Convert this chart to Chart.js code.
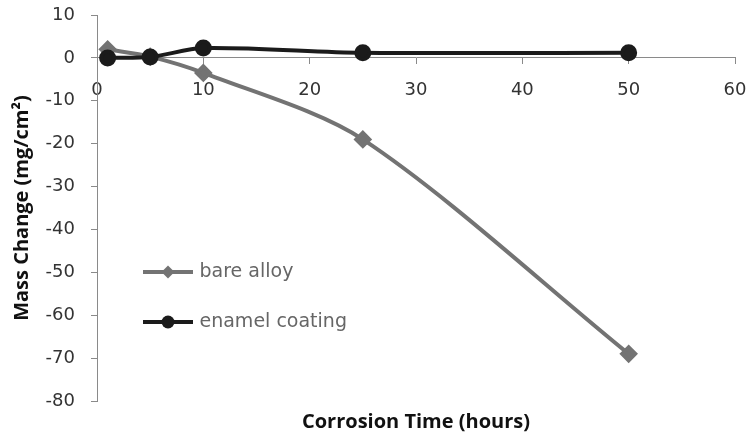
<!DOCTYPE html>
<html>
<head>
<meta charset="utf-8">
<script src="https://cdn.jsdelivr.net/npm/chart.js@4"></script>
<style>
  html, body { margin: 0; padding: 0; background: #fff; }
</style>
</head>
<body>
<canvas id="massChart" width="748" height="438"></canvas>
<script>
// Data
const hours = [1, 5, 10, 25, 50];
const bareAlloy = [2, 0.3, -3.5, -19, -69];
const enamelCoating = [0, 0.2, 2.3, 1.2, 1.2];
const seriesNames = ['bare alloy', 'enamel coating'];
const xRange = [0, 60, 10];      // min, max, step
const yRange = [-80, 10, 10];

const gray = '#737373';
const black = '#1b1b1b';
const axisGray = '#8a8a8a';
const tickFont = { family: 'DejaVu Sans', size: 18 };
const titleFont = { family: 'Open Sans', size: 20, weight: 'bold' };

// legend swatch: line with marker, like the spreadsheet legend
const makeSwatch = (color, marker) => {
    const c = document.createElement('canvas');
    c.width = 68;
    c.height = 16;
    const g = c.getContext('2d');
    g.strokeStyle = color;
    g.fillStyle = color;
    g.lineWidth = 4;
    g.beginPath();
    g.moveTo(18, 8);
    g.lineTo(68, 8);
    g.stroke();
    g.beginPath();
    if (marker === 'circle') {
        g.arc(43, 8, 6.5, 0, Math.PI * 2);
    } else {
        g.moveTo(43, 1.5); g.lineTo(49.5, 8); g.lineTo(43, 14.5); g.lineTo(36.5, 8);
        g.closePath();
    }
    g.fill();
    return c;
};
const swatches = [makeSwatch(gray, 'diamond'), makeSwatch(black, 'circle')];

const toPoints = (ys) => hours.map((h, i) => ({ x: h, y: ys[i] }));

const ctx = document.getElementById('massChart').getContext('2d');
new Chart(ctx, {
  type: 'line',
  data: {
    datasets: [{
      label: seriesNames[0],
      data: toPoints(bareAlloy),
      borderColor: gray,
      backgroundColor: gray,
      borderWidth: 4,
      pointStyle: 'rectRot',
      pointRadius: 6.5,
      tension: 0.3,
      order: 1
    }, {
      label: seriesNames[1],
      data: toPoints(enamelCoating),
      borderColor: black,
      backgroundColor: black,
      borderWidth: 4,
      pointStyle: 'circle',
      pointRadius: 6.5,
      tension: 0.3,
      order: 0
    }]
  },
  options: {
    responsive: false,
    animation: false,
    layout: { padding: { top: 15, right: 13, left: 0, bottom: 0 } },
    scales: {
      x: {
        type: 'linear',
        position: { y: 0 },
        min: xRange[0], max: xRange[1],
        ticks: { stepSize: xRange[2], padding: 16, font: tickFont, color: '#333' },
        grid: { drawOnChartArea: false, tickLength: 6, color: axisGray },
        border: { color: axisGray },
        afterFit: (s) => {
          s.paddingLeft = 0;
          s.paddingRight = 0;
        }
      },
      xTitle: {
        type: 'linear',
        position: 'bottom',
        min: xRange[0], max: xRange[1],
        ticks: { display: false },
        grid: { display: false },
        border: { display: false },
        title: { display: true, text: 'Corrosion Time (hours)', font: titleFont, color: '#111', padding: { top: 0, bottom: 4 } },
        afterFit: (s) => { s.height = 37; }
      },
      y: {
        min: yRange[0], max: yRange[1],
        ticks: { stepSize: yRange[2], padding: 16, font: tickFont, color: '#333' },
        grid: { drawOnChartArea: false, tickLength: 6, color: axisGray },
        border: { color: axisGray },
        title: { display: true, text: 'Mass Change (mg/cm²)', font: titleFont, color: '#111', padding: { top: 10, bottom: 0 } },
        afterFit: (s) => {
          s.width = 97;
          s.paddingTop = 0;
          s.paddingBottom = 0;
        }
      }
    },
    plugins: {
      tooltip: { enabled: false },
      legend: {
        position: 'chartArea',
        align: 'start',
        title: { display: true, text: ' ', font: { size: 10 }, padding: { top: 0, bottom: 219.5 } },
        labels: {
          usePointStyle: true,
          pointStyleWidth: 62,
          padding: 31,
          font: { family: 'DejaVu Sans', size: 19 },
          color: '#333',
          generateLabels: (chart) => chart.data.datasets.map((ds, i) => ({
            text: ds.label,
            pointStyle: swatches[i],
            datasetIndex: i,
            hidden: false,
            lineWidth: 0,
            strokeStyle: 'transparent',
            fillStyle: 'transparent'
          }))
        }
      }
    }
  }
});
</script>
</body>
</html>
